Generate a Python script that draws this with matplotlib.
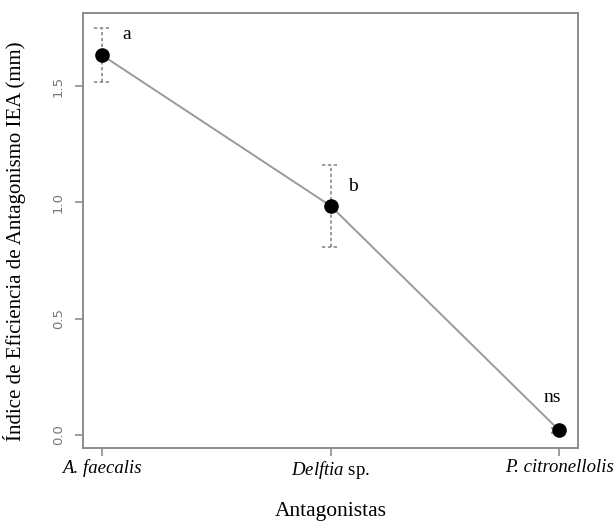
import matplotlib.pyplot as plt

plt.rcParams['mathtext.fontset'] = 'custom'
plt.rcParams['mathtext.rm'] = 'Liberation Serif'
plt.rcParams['mathtext.it'] = 'Liberation Serif:italic'

antagonistas = ['A. faecalis', r'$\mathit{Delftia}$ sp.', 'P. citronellolis']
iea = [1.633, 0.985, 0.02]
err_low = [0.115, 0.175, 0.01]
err_high = [0.115, 0.175, 0.01]
letras = ['a', 'b', 'ns']
letras_pos = [(1.11, 1.72), (2.1, 1.07), (2.97, 0.16)]

x = [1, 2, 3]
gray = '#8c8c8c'
serif = 'Liberation Serif'

fig = plt.figure(figsize=(6.15, 5.25), dpi=100)
ax = fig.add_axes([0.135, 0.1467, 0.805, 0.828])

ax.plot(x, iea, color='#9a9a9a', lw=1.4, zorder=2)
eb = ax.errorbar(x, iea, yerr=[err_low, err_high], fmt='none', ecolor='#8a8a8a',
                 elinewidth=1.2, capsize=0, zorder=1)
for line in eb[2]:
    line.set_linestyle((0, (2, 1.5)))
# dashed caps as short horizontal segments
for xi, yi, lo, hi in zip(x, iea, err_low, err_high):
    for yc in (yi - lo, yi + hi):
        ax.plot([xi - 0.037, xi + 0.037], [yc, yc], color='#8a8a8a', lw=1.2,
                ls=(0, (2, 1.5)), zorder=1)
ax.plot(x, iea, 'o', color='black', ms=9.5, zorder=3)

for txt, (tx, ty) in zip(letras, letras_pos):
    ax.text(tx, ty, txt, fontsize=14, family=serif, ha='center', va='center')

ax.set_xlim(0.917, 3.083)
ax.set_ylim(-0.056, 1.813)
ax.set_xticks(x)
ax.set_xticklabels(antagonistas, fontsize=13.5, family=serif)
for lbl in ax.get_xticklabels()[::2]:
    lbl.set_fontstyle('italic')
ax.set_yticks([0.0, 0.5, 1.0, 1.5])
ax.set_yticklabels(['0.0', '0.5', '1.0', '1.5'], rotation=90, va='center',
                   fontsize=9.5, color='#777777')

for s in ax.spines.values():
    s.set_color(gray)
    s.set_linewidth(1.4)
ax.tick_params(axis='both', direction='out', length=6, width=1.2, color=gray)
ax.tick_params(axis='x', pad=2)
ax.tick_params(axis='y', pad=7)

ax.set_xlabel('Antagonistas', fontsize=15.5, family=serif, labelpad=15)
ax.set_ylabel('Índice de Eficiencia de Antagonismo IEA (mm)', fontsize=15,
              family=serif, labelpad=8)
ax.yaxis.set_label_coords(-0.115, 0.475)

fig.savefig('out.png', dpi=100)
